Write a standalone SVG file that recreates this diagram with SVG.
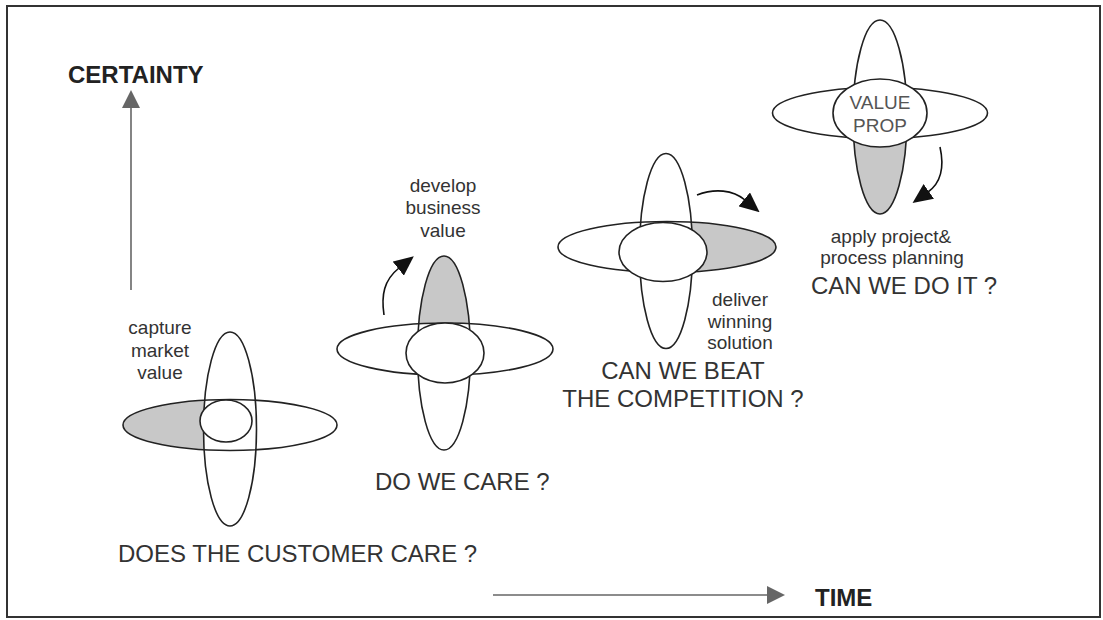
<svg xmlns="http://www.w3.org/2000/svg" width="1103" height="620" viewBox="0 0 1103 620">
<style>
.o{fill:none;stroke:#222;stroke-width:1.6}
.w{fill:#fff;stroke:none}
.g{fill:#c8c8c8;stroke:none}
.c{fill:#fff;stroke:#222;stroke-width:1.6}
text{font-family:"Liberation Sans",Arial,sans-serif;fill:#333}
.s{font-size:19px;text-anchor:middle}
.b{font-size:24px}
.m{font-size:24px;text-anchor:middle}
.h{font-size:24px;font-weight:bold;fill:#222}
.cur{fill:none;stroke:#111;stroke-width:1.6;marker-end:url(#ah)}
.ax{fill:none;stroke:#666;stroke-width:1.6;marker-end:url(#axh)}
</style>
<defs>
<marker id="ah" markerUnits="userSpaceOnUse" markerWidth="20" markerHeight="18" viewBox="0 0 20 18" refX="1" refY="9" orient="auto"><path d="M0,0 L20,9 L0,18 z" fill="#111"/></marker>
<marker id="axh" markerUnits="userSpaceOnUse" markerWidth="18" markerHeight="18" viewBox="0 0 18 18" refX="0" refY="9" orient="auto"><path d="M0,0 L18,9 L0,18 z" fill="#666"/></marker>
<clipPath id="k1"><rect x="100" y="380" width="130" height="90"/></clipPath>
<clipPath id="k2"><rect x="400" y="240" width="90" height="109"/></clipPath>
<clipPath id="k3"><rect x="666" y="200" width="130" height="90"/></clipPath>
<clipPath id="k4"><rect x="840" y="113" width="80" height="110"/></clipPath>
</defs>
<rect x="7" y="6" width="1093" height="611" fill="#fff" stroke="#333" stroke-width="2"/>

<g id="axes">
<line class="ax" x1="131" y1="290" x2="131" y2="108"/>
<line class="ax" x1="493" y1="595" x2="767" y2="595"/>
<text class="h" x="68" y="83">CERTAINTY</text>
<text class="h" x="815" y="606">TIME</text>
</g>

<g id="flower1">
<ellipse class="w" cx="230" cy="425" rx="107" ry="25.5"/>
<ellipse class="g" cx="230" cy="425" rx="107" ry="25.5" clip-path="url(#k1)"/>
<ellipse class="w" cx="230" cy="429" rx="26.5" ry="97"/>
<ellipse class="o" cx="230" cy="425" rx="107" ry="25.5"/>
<ellipse class="o" cx="230" cy="429" rx="26.5" ry="97"/>
<ellipse class="c" cx="226" cy="421" rx="26" ry="21"/>
<text class="s" x="160" y="334">capture</text>
<text class="s" x="160" y="357">market</text>
<text class="s" x="160" y="379">value</text>
<text class="b" x="118" y="562">DOES THE CUSTOMER CARE ?</text>
</g>

<g id="flower2">
<ellipse class="w" cx="444" cy="353" rx="26.5" ry="97"/>
<ellipse class="g" cx="444" cy="353" rx="26.5" ry="97" clip-path="url(#k2)"/>
<ellipse class="w" cx="445" cy="349" rx="108" ry="26"/>
<ellipse class="o" cx="444" cy="353" rx="26.5" ry="97"/>
<ellipse class="o" cx="445" cy="349" rx="108" ry="26"/>
<ellipse class="c" cx="445" cy="353" rx="39" ry="30"/>
<text class="s" x="443" y="192">develop</text>
<text class="s" x="443" y="214">business</text>
<text class="s" x="443" y="237">value</text>
<text class="b" x="375" y="490">DO WE CARE ?</text>
</g>

<g id="flower3">
<ellipse class="w" cx="667" cy="247" rx="109" ry="25.5"/>
<ellipse class="g" cx="667" cy="247" rx="109" ry="25.5" clip-path="url(#k3)"/>
<ellipse class="w" cx="666" cy="251" rx="26.5" ry="97.5"/>
<ellipse class="o" cx="667" cy="247" rx="109" ry="25.5"/>
<ellipse class="o" cx="666" cy="251" rx="26.5" ry="97.5"/>
<ellipse class="c" cx="663" cy="252" rx="44" ry="29.5"/>
<text class="s" x="740" y="306">deliver</text>
<text class="s" x="740" y="328">winning</text>
<text class="s" x="740" y="349">solution</text>
<text class="m" x="683" y="379">CAN WE BEAT</text>
<text class="m" x="683" y="407">THE COMPETITION ?</text>
</g>

<g id="flower4">
<ellipse class="w" cx="880" cy="117" rx="27" ry="97"/>
<ellipse class="g" cx="880" cy="117" rx="27" ry="97" clip-path="url(#k4)"/>
<ellipse class="w" cx="880" cy="113" rx="107.5" ry="25.5"/>
<ellipse class="o" cx="880" cy="117" rx="27" ry="97"/>
<ellipse class="o" cx="880" cy="113" rx="107.5" ry="25.5"/>
<ellipse class="c" cx="880" cy="113" rx="47" ry="34"/>
<text class="s" x="880" y="109" style="fill:#555">VALUE</text>
<text class="s" x="880" y="132" style="fill:#555">PROP</text>
<text class="s" x="891" y="243">apply project&amp;</text>
<text class="s" x="892" y="264">process planning</text>
<text class="m" x="904" y="294">CAN WE DO IT ?</text>
</g>

<g id="connectors">
<path class="cur" d="M384,315 C381,295 384,280 399,268"/>
<path class="cur" d="M697,195 C715,188 733,190 745,200"/>
<path class="cur" d="M940,147 C944,165 942,182 928,192"/>
</g>
</svg>
